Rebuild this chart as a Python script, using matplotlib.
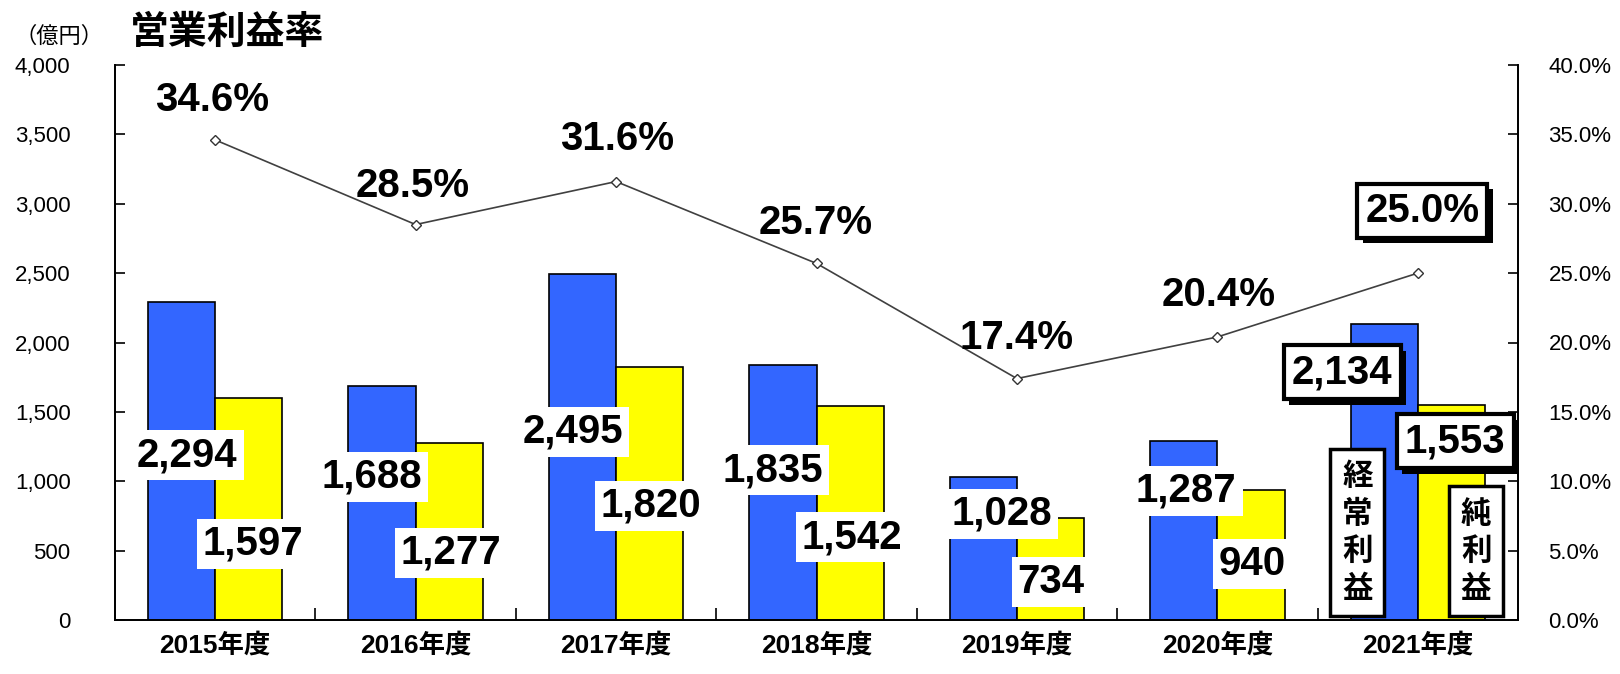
import matplotlib
matplotlib.use("Agg")
import matplotlib.pyplot as plt
from matplotlib import patheffects
from matplotlib.ticker import FuncFormatter, FixedLocator

# ---- data ----
categories = ["2015年度", "2016年度", "2017年度", "2018年度", "2019年度", "2020年度", "2021年度"]
ordinary_profit = [2294, 1688, 2495, 1835, 1028, 1287, 2134]
net_profit = [1597, 1277, 1820, 1542, 734, 940, 1553]
op_margin = [34.6, 28.5, 31.6, 25.7, 17.4, 20.4, 25.0]
yticks_left = [0, 500, 1000, 1500, 2000, 2500, 3000, 3500, 4000]
yticks_right = [0, 5, 10, 15, 20, 25, 30, 35, 40]

# label placement (annotation anchors: x offset from group centre, y in data units)
blue_lab_dx = [-0.14, -0.22, -0.215, -0.22, -0.075, -0.155, -0.377]
blue_lab_y = [1189, 1031, 1355, 1081, 764, 930, 1787]
yel_lab_dx = [0.19, 0.177, 0.175, 0.178, 0.171, 0.174, 0.187]
yel_lab_y = [548, 483, 822, 598, 274, 404, 1290]
pct_lab_dx = [-0.016, -0.013, 0.005, -0.002, 0.0, 0.009, 0.022]
pct_lab_y = [37.5, 31.3, 34.7, 28.6, 20.3, 23.4, 29.5]

NUM = "Liberation Sans"
JP = "Noto Sans CJK JP"
plt.rcParams['font.family'] = [NUM, JP, 'DejaVu Sans']

fig = plt.figure(figsize=(16.2, 6.74), dpi=100)
ax = fig.add_axes([115/1620, 1-620/674, (1518-115)/1620, (620-65)/674])
ax2 = ax.twinx()

x = list(range(len(categories)))
w = 0.335
ax.bar([i - w/2 for i in x], ordinary_profit, width=w, color="#3366FF", edgecolor="black", linewidth=1.2, zorder=2)
ax.bar([i + w/2 for i in x], net_profit, width=w, color="#FFFF00", edgecolor="black", linewidth=1.2, zorder=2)

ax2.plot(x, op_margin, color="#404040", lw=1.2, marker="D", ms=5.5, mfc="white", mec="#333333", mew=1.0, zorder=3)

ax.set_xlim(-0.5, len(categories) - 0.5)
ax.set_ylim(0, 4000)
ax2.set_ylim(0, 40)

ax.yaxis.set_major_locator(FixedLocator(yticks_left))
ax.yaxis.set_major_formatter(FuncFormatter(lambda v, p: f"{int(v):,}"))
ax2.yaxis.set_major_locator(FixedLocator(yticks_right))
ax2.yaxis.set_major_formatter(FuncFormatter(lambda v, p: f"{v:.1f}%"))

ax.set_xticks(x)
ax.set_xticklabels(categories, fontsize=19, fontweight="bold", family=[NUM, JP])
ax.set_xticks([i + 0.5 for i in x[:-1]], minor=True)
ax.tick_params(axis="x", which="major", length=0, pad=9)
ax.tick_params(axis="x", which="minor", direction="in", length=9, width=1.2)
ax.tick_params(axis="y", direction="in", length=7, width=1.2, labelsize=16, pad=32)
ax2.tick_params(axis="y", direction="in", length=7, width=1.2, labelsize=16, pad=22)

for a in (ax, ax2):
    a.spines["top"].set_visible(False)
    for s in ("left", "right", "bottom"):
        a.spines[s].set_linewidth(1.3)

ax.set_zorder(ax2.get_zorder() - 1)
ax2.patch.set_visible(False)

numfs = 29
plain = dict(boxstyle="square,pad=0.15", fc="white", ec="none")
shadow = [patheffects.withSimplePatchShadow(offset=(4, -4), shadow_rgbFace="black", alpha=1.0)]

def boxed(axis, xx, yy, txt, fs=numfs):
    t = axis.text(xx, yy, txt, ha="center", va="center", fontsize=fs, fontweight="bold", zorder=9,
                  bbox=dict(boxstyle="square,pad=0.2", fc="white", ec="black", lw=3))
    t.get_bbox_patch().set_path_effects(shadow)
    return t

last = len(categories) - 1
for i in x:
    if i == last:
        boxed(ax2, i + blue_lab_dx[i], blue_lab_y[i] / 100, f"{ordinary_profit[i]:,}")
        boxed(ax2, i + yel_lab_dx[i], yel_lab_y[i] / 100, f"{net_profit[i]:,}")
        boxed(ax2, i + pct_lab_dx[i], pct_lab_y[i], f"{op_margin[i]:.1f}%")
    else:
        ax2.text(i + blue_lab_dx[i], blue_lab_y[i] / 100, f"{ordinary_profit[i]:,}", ha="center", va="center",
                 fontsize=numfs, fontweight="bold", bbox=plain, zorder=6)
        ax2.text(i + yel_lab_dx[i], yel_lab_y[i] / 100, f"{net_profit[i]:,}", ha="center", va="center",
                 fontsize=numfs, fontweight="bold", bbox=plain, zorder=6)
        ax2.text(i + pct_lab_dx[i], pct_lab_y[i], f"{op_margin[i]:.1f}%", ha="center", va="center",
                 fontsize=numfs, fontweight="bold", zorder=6)

# legend-like vertical labels inside the last group
for dx, word in ((-0.302, "経常利益"), (0.291, "純利益")):
    ax2.annotate("\n".join(word), (last + dx, 0), xytext=(0, 11), textcoords="offset points",
                 ha="center", va="bottom", fontsize=22, fontweight="bold", family=[JP], linespacing=1.22,
                 zorder=7, bbox=dict(boxstyle="square,pad=0.38", fc="white", ec="black", lw=2.5))

fig.text(130/1620, 1-32/674, "営業利益率", fontsize=28, fontweight="bold", family=[JP], ha="left", va="center")
fig.text(14/1620, 1-36/674, "（億円）", fontsize=16, family=[JP], ha="left", va="center")

fig.savefig("out.png", dpi=100)
